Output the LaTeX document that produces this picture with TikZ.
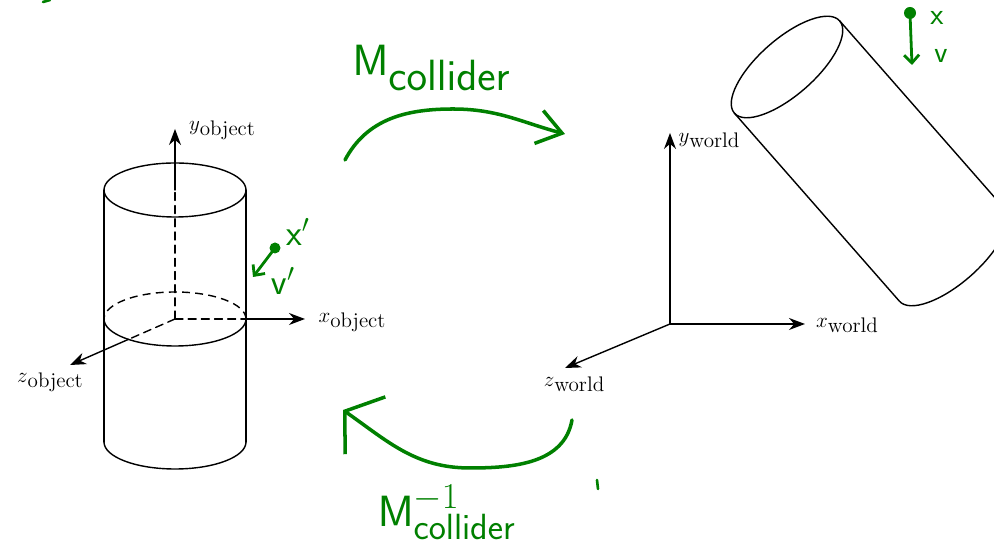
\documentclass[tikz,border=0pt]{standalone}
\usepackage{tkz-euclide}
\usetikzlibrary{arrows.meta}
\definecolor{inkgreen}{RGB}{0,128,0}
\newcommand{\axlab}[2]{$#1$\raisebox{-.55ex}{#2}}
\tikzset{rim/.style={line width=.8pt},
    hidden/.style={line width=.8pt,dash pattern=on 4.5pt off 3pt},
    axis/.style={line width=.8pt,-{Stealth[length=3.2mm,width=2.4mm]}},
    axis label/.style={font=\large,inner sep=1pt},
    ink/.style={draw=inkgreen,line width=2pt,line cap=round,line join=round},
    hand/.style={text=inkgreen,font=\sffamily,inner sep=1pt}
}

\begin{document}
\begin{tikzpicture}[x=2mm,y=2mm]
        \useasboundingbox (0,0) rectangle (99.4,54.6);
        \tkzDefPoints{17.5/22.7/O,17.5/35.6/T,17.5/10.4/B,17.5/41.7/Yo,24.6/22.7/Xe,30.5/22.7/Xo,12.84/20.66/Ze,7/18.1/Zo}
        \tkzDefPoints{10.4/35.6/A1,10.4/10.4/A2,24.6/35.6/A3,24.6/10.4/A4}
        \tkzDefPoints{67/22.2/W,67/41.3/Yw,80.5/22.2/Xw,56.5/17.8/Zw}
        \tkzDefPoints{78.7/47.9/C1,95.2/29.1/C2,73.44/43.28/P1,89.94/24.48/Q1,83.96/52.52/P2,100.46/33.72/Q2}
        \draw[rim] (T) ellipse [x radius=7.1,y radius=2.7];
        \draw[rim] (Xe) arc[start angle=0,end angle=-180,x radius=7.1,y radius=2.7];
        \draw[hidden] (Xe) arc[start angle=0,end angle=180,x radius=7.1,y radius=2.7];
        \draw[rim] (A4) arc[start angle=0,end angle=-180,x radius=7.1,y radius=2.7];
        \tkzDrawSegments[rim](A1,A2 A3,A4)
        \tkzDrawSegments[hidden](O,T O,Xe O,Ze)
        \tkzDrawSegments[axis](T,Yo Xe,Xo Ze,Zo)
        \node[axis label] (ylo) at (22.2,41.6) {\axlab{y}{object}};
        \node[axis label] (xlo) at (35.2,22.4) {\axlab{x}{object}};
        \node[axis label] (zlo) at (5,16.4) {\axlab{z}{object}};
        \tkzDrawSegments[axis](W,Yw W,Xw W,Zw)
        \node[axis label] (ylw) at (70.9,40.6) {\axlab{y}{world}};
        \node[axis label] (xlw) at (84.7,22.1) {\axlab{x}{world}};
        \node[axis label] (zlw) at (57.4,16.2) {\axlab{z}{world}};
        \draw[rim,rotate around={41.3:(C1)}] (C1) ellipse [x radius=7,y radius=2.8];
        \draw[rim,rotate around={41.3:(C2)}] (Q1) arc[start angle=180,end angle=360,x radius=7,y radius=2.8];
        \tkzDrawSegments[rim](P1,Q1 P2,Q2)
        \coordinate (m1s) at (34.5,38.6);
        \coordinate (m1m) at (45.3,43.7);
        \coordinate (m1e) at (56.5,41.2);
        \coordinate (m2s) at (57.2,12.6);
        \coordinate (m2m) at (47,7.8);
        \coordinate (m2e) at (34.3,13.6);
        \draw[ink,-{Straight Barb[length=4.8mm,width=6.8mm]}] (m1s) to[out=62,in=180] (m1m) to[out=0,in=165] (m1e);
        \draw[ink,-{Straight Barb[length=5mm,width=14mm]}] (m2s) to[out=-100,in=0] (m2m) to[out=180,in=-35] (m2e);
        \node[hand,font=\sffamily\fontsize{36}{40}\selectfont] (mcol) at (43.2,47.8) {$\mathsf{M}_{\mathsf{collider}}$};
        \node[hand,font=\sffamily\fontsize{28}{32}\selectfont] (minv) at (44.7,3.4) {$\mathsf{M}^{-1}_{\mathsf{collider}}$};
        \coordinate (dp) at (27.5,29.8);
        \coordinate (vp) at (25.3,26.9);
        \fill[inkgreen] (dp) circle (.55);
        \draw[ink,line width=1.6pt,-{Straight Barb[length=1.6mm,width=3mm]}] (dp) -- (vp);
        \node[hand,font=\sffamily\huge] (xpl) at (29.8,31.4) {$\mathsf{x}'$};
        \node[hand,font=\sffamily\huge] (vpl) at (28.3,26.5) {$\mathsf{v}'$};
        \coordinate (dw) at (91,53.3);
        \coordinate (vw) at (91.2,48.1);
        \fill[inkgreen] (dw) circle (.6);
        \draw[ink,line width=1.6pt,-{Straight Barb[length=1.6mm,width=3mm]}] (dw) -- (vw);
        \node[hand,font=\sffamily\LARGE] (xwl) at (93.7,52.8) {$\mathsf{x}$};
        \node[hand,font=\sffamily\LARGE] (vwl) at (94.1,49) {$\mathsf{v}$};
        \draw[ink,line width=1.5pt] (59.7,6.6) -- (59.8,5.7);
        \draw[ink,line width=1.5pt] (4.3,54.4) -- (5,54.6);
\end{tikzpicture}
\end{document}
